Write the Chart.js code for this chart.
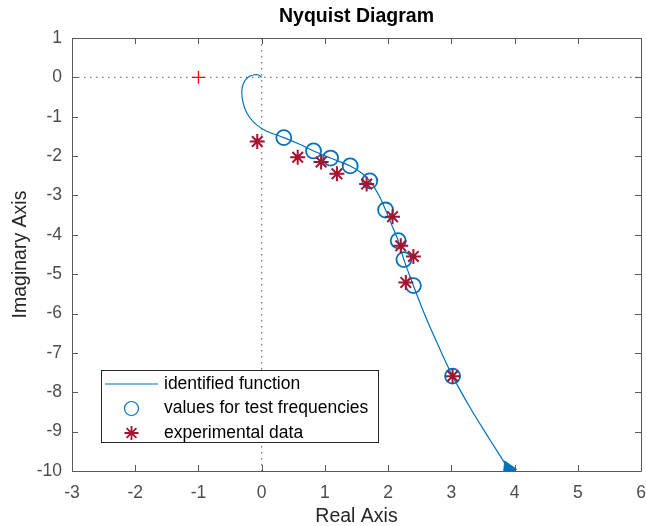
<!DOCTYPE html>
<html lang="en">
<head>
    <meta charset="UTF-8">
    <title>Nyquist Diagram</title>
    <script src="https://cdn.jsdelivr.net/npm/chart.js"></script>
    <style>
        html, body { margin: 0; padding: 0; background: #fff; }
        #wrap { width: 646px; height: 526px; }
    </style>
</head>
<body>
    <div id="wrap"><canvas id="nyquist" width="646" height="526"></canvas></div>

    <script type="text/javascript">
        // identified function
        var curveRe = [0.00, -0.05, -0.13, -0.21, -0.27, -0.31, -0.31, -0.27, -0.19, -0.07, 0.08, 0.35, 0.60, 0.82, 1.09, 1.40, 1.58, 1.71, 1.85, 1.96, 2.06, 2.16, 2.25, 2.40, 2.58, 2.79, 3.02, 3.30, 3.60, 3.90];
        var curveIm = [0.00, 0.06, 0.06, 0.01, -0.10, -0.28, -0.50, -0.78, -1.02, -1.22, -1.37, -1.53, -1.70, -1.87, -2.05, -2.25, -2.43, -2.63, -2.98, -3.37, -3.76, -4.15, -4.63, -5.29, -6.03, -6.80, -7.59, -8.40, -9.18, -9.94];

        // values for test frequencies
        var testRe = [0.35, 0.82, 1.09, 1.40, 1.71, 1.96, 2.16, 2.25, 2.40, 3.02];
        var testIm = [-1.53, -1.87, -2.05, -2.25, -2.63, -3.37, -4.15, -4.63, -5.29, -7.59];

        // experimental data
        var expRe = [-0.07, 0.57, 0.94, 1.19, 1.66, 2.07, 2.20, 2.40, 2.28, 3.02];
        var expIm = [-1.63, -2.03, -2.15, -2.45, -2.71, -3.54, -4.28, -4.55, -5.21, -7.59];

        // critical point and axis ranges
        var critical = {x: -1, y: 0};
        var xTicks = [-3, -2, -1, 0, 1, 2, 3, 4, 5, 6];
        var yTicks = [1, 0, -1, -2, -3, -4, -5, -6, -7, -8, -9, -10];

        var legendItems = ['identified function', 'values for test frequencies', 'experimental data'];

        var blue = '#0072BD';
        var red = '#A2142F';
        var fontFamily = '"Liberation Sans", Arial, Helvetica, sans-serif';

        function pairs(xs, ys) {
            return xs.map(function (v, i) { return {x: v, y: ys[i]}; });
        }

        var xMin = xTicks[0], xMax = xTicks[xTicks.length - 1];
        var yMin = yTicks[yTicks.length - 1], yMax = yTicks[0];
        var lastIdx = curveRe.length - 1;

        // box + inward ticks + legend, matlab style
        var matlabAxes = {
            id: 'matlabAxes',
            afterDraw: function (chart) {
                var ctx = chart.ctx;
                var a = chart.chartArea;
                var xs = chart.scales.x, ys = chart.scales.y;
                var tl = 6;
                ctx.save();
                ctx.strokeStyle = '#5a5a5a';
                ctx.lineWidth = 1;
                ctx.beginPath();
                ctx.rect(Math.round(a.left) + 0.5, Math.round(a.top) + 0.5,
                         Math.round(a.right - a.left), Math.round(a.bottom - a.top));
                ctx.stroke();
                ctx.beginPath();
                xTicks.forEach(function (v) {
                    var px = Math.round(xs.getPixelForValue(v)) + 0.5;
                    ctx.moveTo(px, a.bottom); ctx.lineTo(px, a.bottom - tl);
                    ctx.moveTo(px, a.top); ctx.lineTo(px, a.top + tl);
                });
                yTicks.forEach(function (v) {
                    var py = Math.round(ys.getPixelForValue(v)) + 0.5;
                    ctx.moveTo(a.left, py); ctx.lineTo(a.left + tl, py);
                    ctx.moveTo(a.right, py); ctx.lineTo(a.right - tl, py);
                });
                ctx.stroke();

                // legend box
                var lx = 101, ly = 370, lw = 277, lh = 72;
                ctx.fillStyle = '#fff';
                ctx.fillRect(lx, ly, lw, lh);
                ctx.strokeStyle = '#262626';
                ctx.strokeRect(lx + 0.5, ly + 0.5, lw, lh);

                var rows = [384, 408.5, 433];
                ctx.strokeStyle = blue;
                ctx.lineWidth = 1.2;
                ctx.beginPath();
                ctx.moveTo(105, rows[0]); ctx.lineTo(158, rows[0]);
                ctx.stroke();
                Chart.helpers.drawPoint(ctx, {pointStyle: 'circle', radius: 7, borderWidth: 1.8}, 131.5, rows[1]);
                ctx.strokeStyle = red;
                ctx.lineWidth = 1.8;
                Chart.helpers.drawPoint(ctx, {pointStyle: 'star', radius: 7, borderWidth: 1.8}, 131.5, rows[2]);

                ctx.fillStyle = '#000';
                ctx.font = '17.5px ' + fontFamily;
                ctx.textBaseline = 'middle';
                ctx.textAlign = 'left';
                legendItems.forEach(function (t, i) {
                    ctx.fillText(t, 164, rows[i]);
                });
                ctx.restore();
            }
        };

        var ctx = document.getElementById('nyquist').getContext('2d');
        var chart = new Chart(ctx, {
            type: 'scatter',
            data: {
                datasets: [
                    {
                        label: 'zero-re',
                        data: [{x: xMin, y: 0}, {x: xMax, y: 0}],
                        showLine: true, pointRadius: 0,
                        borderColor: '#7a7a7a', borderWidth: 1.3, borderDash: [1.5, 4.5],
                        order: 5
                    },
                    {
                        label: 'zero-im',
                        data: [{x: 0, y: yMax}, {x: 0, y: yMin}],
                        showLine: true, pointRadius: 0,
                        borderColor: '#7a7a7a', borderWidth: 1.3, borderDash: [1.5, 4.5],
                        order: 5
                    },
                    {
                        label: legendItems[0],
                        data: pairs(curveRe, curveIm),
                        showLine: true, pointRadius: 0,
                        borderColor: blue, borderWidth: 1.2, tension: 0.35,
                        order: 3
                    },
                    {
                        label: 'arrow',
                        data: [{x: curveRe[lastIdx], y: curveIm[lastIdx]}],
                        pointStyle: 'triangle', pointRadius: 8.5, pointRotation: 95,
                        backgroundColor: blue, borderColor: blue, borderWidth: 1,
                        order: 2
                    },
                    {
                        label: legendItems[1],
                        data: pairs(testRe, testIm),
                        pointStyle: 'circle', pointRadius: 7.5,
                        borderColor: blue, backgroundColor: 'rgba(0,0,0,0)', borderWidth: 1.8,
                        order: 1
                    },
                    {
                        label: legendItems[2],
                        data: pairs(expRe, expIm),
                        pointStyle: 'star', pointRadius: 7.5,
                        borderColor: red, backgroundColor: red, borderWidth: 2,
                        order: 0
                    },
                    {
                        label: 'critical',
                        data: [critical],
                        pointStyle: 'cross', pointRadius: 6.5,
                        borderColor: '#FF0000', borderWidth: 1.3,
                        order: 0
                    }
                ]
            },
            options: {
                responsive: false,
                animation: false,
                layout: { autoPadding: false, padding: { left: 0, right: 5, top: 0, bottom: 0 } },
                plugins: {
                    legend: { display: false },
                    tooltip: { enabled: false },
                    title: {
                        display: true,
                        text: 'Nyquist Diagram',
                        fullSize: false,
                        color: '#000',
                        font: { family: fontFamily, size: 19.5, weight: 'bold' },
                        padding: { top: 5, bottom: 9.6 }
                    }
                },
                scales: {
                    x: {
                        type: 'linear',
                        min: xMin, max: xMax,
                        afterBuildTicks: function (s) { s.ticks = xTicks.map(function (v) { return {value: v}; }); },
                        afterFit: function (s) { s.height = 55; s.paddingLeft = 0; s.paddingRight = 0; },
                        grid: { display: false, drawTicks: false },
                        border: { display: false },
                        ticks: {
                            color: '#4d4d4d', padding: 12, maxRotation: 0,
                            font: { family: fontFamily, size: 17.5 }
                        },
                        title: {
                            display: true, text: 'Real Axis', color: '#262626',
                            font: { family: fontFamily, size: 19.5 },
                            padding: { top: 0, bottom: -2 }
                        }
                    },
                    y: {
                        type: 'linear',
                        min: yMin, max: yMax,
                        afterBuildTicks: function (s) { s.ticks = yTicks.slice().reverse().map(function (v) { return {value: v}; }); },
                        afterFit: function (s) { s.width = 72; s.paddingTop = 0; s.paddingBottom = 0; },
                        grid: { display: false, drawTicks: false },
                        border: { display: false },
                        ticks: {
                            color: '#4d4d4d', padding: 10,
                            font: { family: fontFamily, size: 17.5 }
                        },
                        title: {
                            display: true, text: 'Imaginary Axis', color: '#262626',
                            font: { family: fontFamily, size: 19.5 },
                            padding: { top: 9, bottom: 0 }
                        }
                    }
                }
            },
            plugins: [matlabAxes]
        });
    </script>
</body>
</html>
